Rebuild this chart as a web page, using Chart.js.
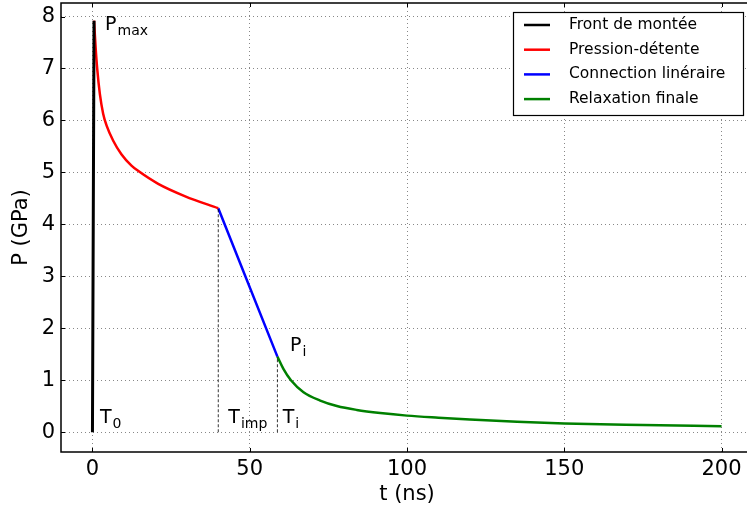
<!DOCTYPE html>
<html>
<head>
<meta charset="utf-8">
<script src="https://cdn.jsdelivr.net/npm/chart.js@4/dist/chart.umd.min.js"></script>
<style>
  html, body { margin: 0; padding: 0; background: #fff; overflow: hidden; }
  #wrap { width: 756px; height: 514px; }
</style>
</head>
<body>
<div id="wrap"><canvas id="chart" width="756" height="514"></canvas></div>
<script>
// values
const xTicks = [0, 50, 100, 150, 200];
const yTicks = [0, 1, 2, 3, 4, 5, 6, 7, 8];

const frontT = [0, 0.5];
const frontP = [0, 7.92];

const detenteT = [0.5, 1.0, 1.5, 2.35, 3.4, 4.5, 6.6, 9.2, 12.4, 14.5, 20.9, 29.5, 40];
const detenteP = [7.92, 7.41, 7.0, 6.51, 6.13, 5.90, 5.61, 5.35, 5.13, 5.03, 4.78, 4.54, 4.31];

const connT = [40, 58.8];
const connP = [4.31, 1.455];

const relaxT = [58.8, 60.7, 63.1, 67.1, 72.4, 77.7, 84, 91.5, 100, 110, 120, 135, 150, 175, 200];
const relaxP = [1.455, 1.22, 1.0, 0.77, 0.61, 0.505, 0.43, 0.37, 0.32, 0.28, 0.245, 0.2, 0.17, 0.14, 0.115];

const seriesNames = ['Front de montée', 'Pression-détente', 'Connection linéraire', 'Relaxation finale'];
const seriesColors = ['#000000', '#ff0000', '#0000ff', '#008000'];

// T_imp and T_i markers
const markerT = [40, 58.8];
const markerP = [4.31, 1.455];

// text labels: [t, P, main, subscript]
const labels = [
  [4.0, 7.74, 'P', 'max'],
  [2.4, 0.17, 'T', '0'],
  [43.2, 0.17, 'T', 'imp'],
  [60.5, 0.17, 'T', 'i'],
  [62.8, 1.57, 'P', 'i']
];

const pts = (xs, ys) => xs.map((x, i) => ({ x: x, y: ys[i] }));

const lineSet = (name, color, xs, ys, width) => ({
  label: name,
  data: pts(xs, ys),
  borderColor: color,
  backgroundColor: color,
  borderWidth: width,
  pointRadius: 0,
  showLine: true,
  cubicInterpolationMode: 'monotone'
});

const datasets = [
  lineSet(seriesNames[0], seriesColors[0], frontT, frontP, 3),
  lineSet(seriesNames[1], seriesColors[1], detenteT, detenteP, 2.5),
  lineSet(seriesNames[2], seriesColors[2], connT, connP, 2.5),
  lineSet(seriesNames[3], seriesColors[3], relaxT, relaxP, 2.5)
];
markerT.forEach((t, i) => {
  datasets.unshift({
    label: '',
    data: [{ x: t, y: 0 }, { x: t, y: markerP[i] }],
    borderColor: '#000',
    borderWidth: 0.8,
    borderDash: [3, 2],
    pointRadius: 0,
    showLine: true
  });
});

const FONT = 'DejaVu Sans';

const framePlugin = {
  id: 'frame',
  afterDraw(chart) {
    const ctx = chart.ctx;
    const a = chart.chartArea;
    const xs = chart.scales.x, ys = chart.scales.y;
    ctx.save();
    // inside tick marks
    ctx.strokeStyle = '#000';
    ctx.lineWidth = 1;
    ctx.beginPath();
    xTicks.forEach(v => {
      const px = Math.round(xs.getPixelForValue(v)) + 0.5;
      ctx.moveTo(px, a.bottom); ctx.lineTo(px, a.bottom - 4);
      ctx.moveTo(px, a.top); ctx.lineTo(px, a.top + 4);
    });
    yTicks.forEach(v => {
      const py = Math.round(ys.getPixelForValue(v)) + 0.5;
      ctx.moveTo(a.left, py); ctx.lineTo(a.left + 4, py);
      ctx.moveTo(a.right, py); ctx.lineTo(a.right - 4, py);
    });
    ctx.stroke();
    // box
    ctx.lineWidth = 1.5;
    ctx.strokeRect(a.left, a.top, a.right - a.left, a.bottom - a.top);

    // annotations with subscripts
    ctx.fillStyle = '#000';
    ctx.textBaseline = 'alphabetic';
    ctx.textAlign = 'left';
    labels.forEach(l => {
      const px = xs.getPixelForValue(l[0]);
      const py = ys.getPixelForValue(l[1]);
      ctx.font = '19px "' + FONT + '"';
      ctx.fillText(l[2], px, py);
      const w = ctx.measureText(l[2]).width;
      ctx.font = '14px "' + FONT + '"';
      ctx.fillText(l[3], px + w + 1, py + 5);
    });

    // legend box
    const lx = 513, ly = 12, lw = 230, lh = 103;
    ctx.fillStyle = '#fff';
    ctx.fillRect(lx, ly, lw, lh);
    ctx.lineWidth = 1.2;
    ctx.strokeStyle = '#000';
    ctx.strokeRect(lx + 0.5, ly + 0.5, lw, lh);
    ctx.font = '15.5px "' + FONT + '"';
    ctx.textBaseline = 'middle';
    seriesNames.forEach((name, i) => {
      const y = ly + 13 + i * 24.7;
      ctx.strokeStyle = seriesColors[i];
      ctx.lineWidth = 2.5;
      ctx.beginPath();
      ctx.moveTo(lx + 11, y); ctx.lineTo(lx + 37, y);
      ctx.stroke();
      ctx.fillStyle = '#000';
      ctx.fillText(name, lx + 56, y);
    });
    ctx.restore();
  }
};

new Chart(document.getElementById('chart').getContext('2d'), {
  type: 'scatter',
  data: { datasets: datasets },
  options: {
    responsive: false,
    animation: false,
    layout: { padding: { left: 0, top: 3, right: 3, bottom: 0 } },
    plugins: {
      legend: { display: false },
      tooltip: { enabled: false }
    },
    scales: {
      x: {
        type: 'linear',
        min: -10,
        max: 210,
        afterBuildTicks: s => { s.ticks = xTicks.map(v => ({ value: v })); },
        afterFit: s => { s.height = 62; s.paddingLeft = 0; s.paddingRight = 0; },
        grid: { color: '#888', lineWidth: 1, drawTicks: false },
        border: { display: false, dash: [1, 3] },
        ticks: { color: '#000', padding: 5, font: { family: FONT, size: 21 }, maxRotation: 0 },
        title: { display: true, text: 't (ns)', color: '#000', font: { family: FONT, size: 21 }, padding: { top: 0, bottom: 7 } }
      },
      y: {
        type: 'linear',
        min: -0.38,
        max: 8.26,
        afterBuildTicks: s => { s.ticks = yTicks.map(v => ({ value: v })); },
        afterFit: s => { s.width = 61; s.paddingTop = 0; s.paddingBottom = 0; },
        grid: { color: '#888', lineWidth: 1, drawTicks: false },
        border: { display: false, dash: [1, 3] },
        ticks: { color: '#000', padding: 6, font: { family: FONT, size: 21 } },
        title: { display: true, text: 'P (GPa)', color: '#000', font: { family: FONT, size: 21 }, padding: { top: 9, bottom: 0 } }
      }
    }
  },
  plugins: [framePlugin]
});
</script>
</body>
</html>
